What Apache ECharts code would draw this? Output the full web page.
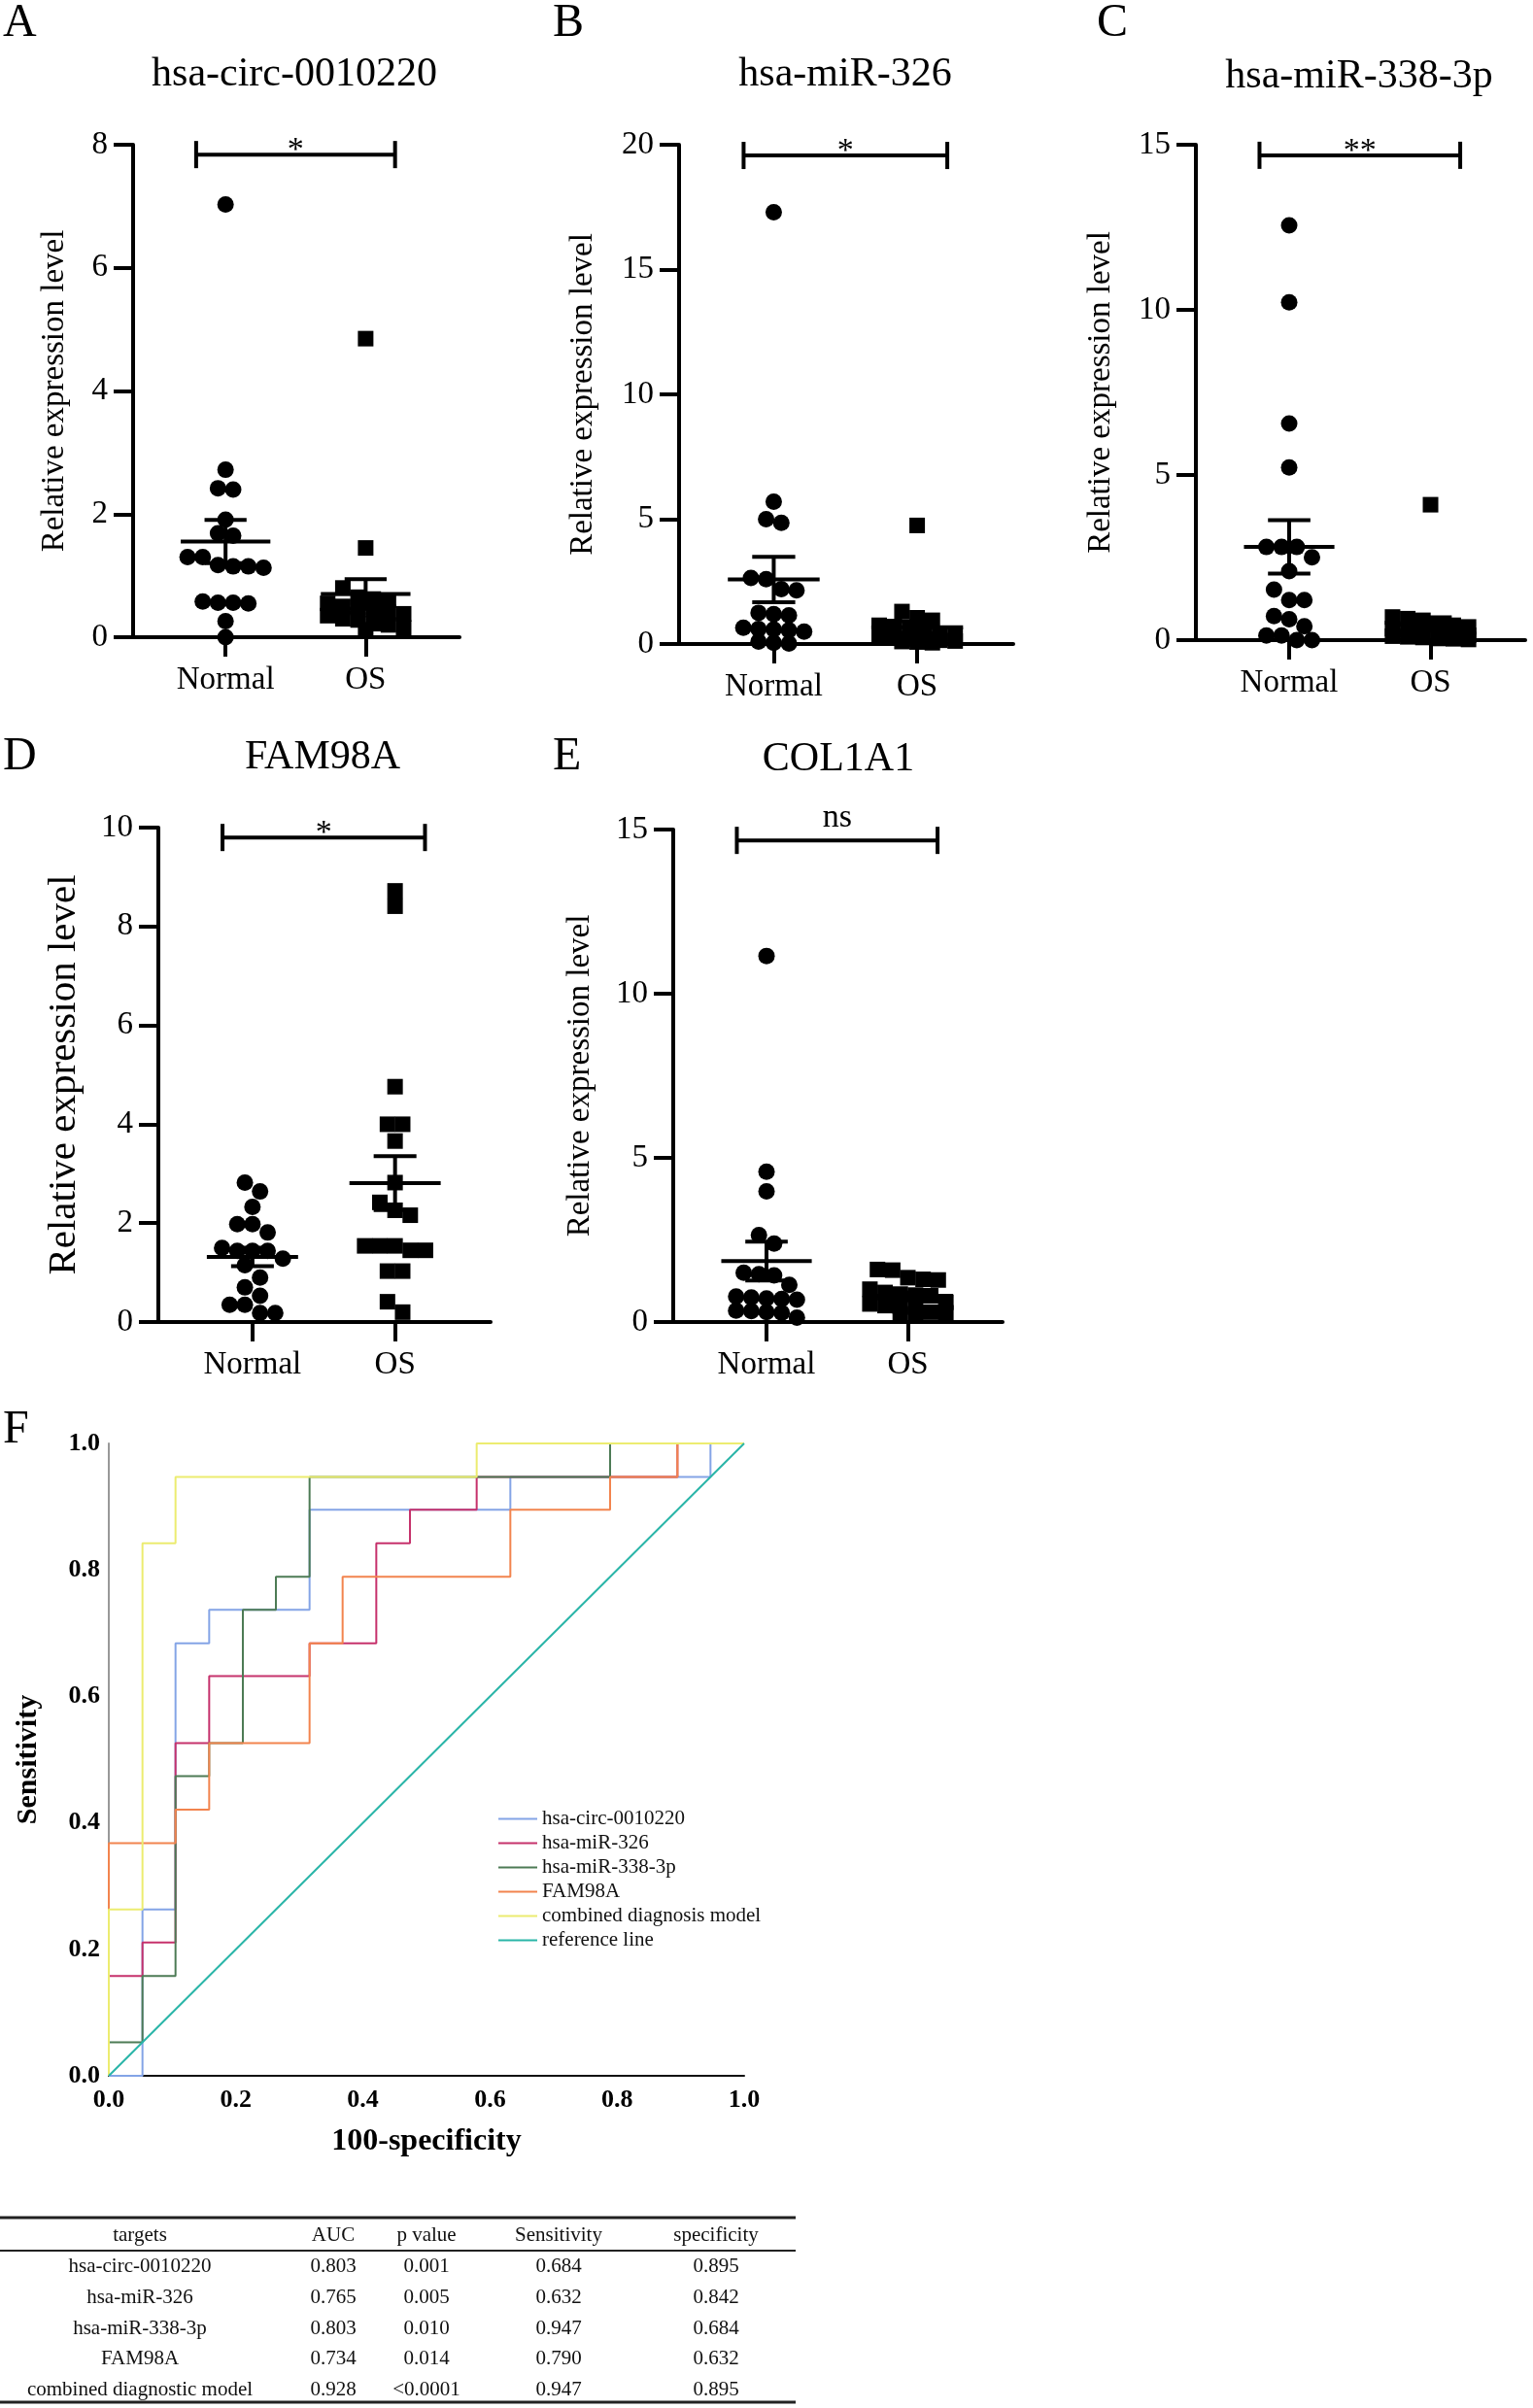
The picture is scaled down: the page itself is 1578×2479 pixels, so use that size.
<!DOCTYPE html>
<html>
<head>
<meta charset="utf-8">
<script src="https://cdn.jsdelivr.net/npm/echarts@6/dist/echarts.min.js"></script>
<style>
html, body { margin: 0; padding: 0; background: #fff; }
#main { width: 1578px; height: 2479px; }
</style>
</head>
<body>
<div id="main"></div>
<script>
const groups = ['Normal', 'OS']

// A  hsa-circ-0010220
const circNormal = [7.03, 2.72, 2.42, 2.4, 1.91, 1.69, 1.65, 1.3, 1.3, 1.17, 1.15, 1.15, 1.13, 0.58, 0.56, 0.56, 0.55, 0.26, 0.0]
const circOS = [4.85, 1.45, 0.8, 0.65, 0.62, 0.6, 0.55, 0.5, 0.48, 0.45, 0.4, 0.38, 0.35, 0.3, 0.28, 0.22, 0.2, 0.15, 0.12]
// B  hsa-miR-326
const mir326Normal = [17.3, 5.7, 5.0, 4.85, 2.65, 2.6, 2.2, 2.15, 1.25, 1.2, 1.15, 0.65, 0.6, 0.58, 0.55, 0.5, 0.1, 0.05, 0.02]
const mir326OS = [4.75, 1.3, 1.05, 0.95, 0.75, 0.7, 0.6, 0.5, 0.4, 0.35, 0.3, 0.25, 0.2, 0.18, 0.15, 0.12, 0.1, 0.08, 0.05]
// C  hsa-miR-338-3p
const mir338Normal = [12.56, 10.23, 6.56, 5.23, 2.82, 2.82, 2.82, 2.51, 2.09, 1.53, 1.21, 1.21, 0.73, 0.63, 0.42, 0.14, 0.14, 0.0, 0.0]
const mir338OS = [4.1, 0.7, 0.65, 0.6, 0.5, 0.45, 0.4, 0.35, 0.3, 0.25, 0.2, 0.18, 0.15, 0.12, 0.1, 0.08, 0.05, 0.04, 0.02]
// D  FAM98A
const famNormal = [2.82, 2.64, 2.33, 1.98, 1.98, 1.81, 1.5, 1.44, 1.44, 1.44, 1.28, 1.15, 0.9, 0.7, 0.53, 0.35, 0.35, 0.18, 0.18]
const famOS = [8.72, 8.41, 4.76, 4.0, 4.0, 3.66, 2.82, 2.42, 2.26, 2.16, 1.54, 1.54, 1.54, 1.45, 1.45, 1.03, 1.03, 0.41, 0.2]
// E  COL1A1
const colNormal = [11.15, 4.58, 3.98, 2.65, 2.39, 1.5, 1.46, 1.42, 1.13, 0.78, 0.75, 0.72, 0.7, 0.68, 0.35, 0.33, 0.3, 0.28, 0.13]
const colOS = [1.6, 1.58, 1.35, 1.3, 1.28, 1.0, 0.9, 0.85, 0.82, 0.8, 0.6, 0.55, 0.5, 0.48, 0.45, 0.3, 0.28, 0.25, 0.22]

// F  ROC curves (1 - specificity, sensitivity)
const rocNames = ['hsa-circ-0010220', 'hsa-miR-326', 'hsa-miR-338-3p', 'FAM98A', 'combined diagnosis model', 'reference line']
const circFpr = [0, 0.053, 0.053, 0.105, 0.105, 0.158, 0.158, 0.316, 0.316, 0.632, 0.632, 0.947, 0.947, 1]
const circTpr = [0, 0, 0.263, 0.263, 0.684, 0.684, 0.737, 0.737, 0.895, 0.895, 0.947, 0.947, 1, 1]
const mir326Fpr = [0, 0, 0.053, 0.053, 0.105, 0.105, 0.158, 0.158, 0.316, 0.316, 0.421, 0.421, 0.474, 0.474, 0.579, 0.579, 0.895, 0.895, 1]
const mir326Tpr = [0, 0.158, 0.158, 0.211, 0.211, 0.526, 0.526, 0.632, 0.632, 0.684, 0.684, 0.842, 0.842, 0.895, 0.895, 0.947, 0.947, 1, 1]
const mir338Fpr = [0, 0, 0.053, 0.053, 0.105, 0.105, 0.158, 0.158, 0.211, 0.211, 0.263, 0.263, 0.316, 0.316, 0.789, 0.789, 1]
const mir338Tpr = [0, 0.053, 0.053, 0.158, 0.158, 0.474, 0.474, 0.526, 0.526, 0.737, 0.737, 0.789, 0.789, 0.947, 0.947, 1, 1]
const famFpr = [0, 0, 0.105, 0.105, 0.158, 0.158, 0.316, 0.316, 0.368, 0.368, 0.632, 0.632, 0.789, 0.789, 0.895, 0.895, 1]
const famTpr = [0, 0.368, 0.368, 0.421, 0.421, 0.526, 0.526, 0.684, 0.684, 0.789, 0.789, 0.895, 0.895, 0.947, 0.947, 1, 1]
const combFpr = [0, 0, 0.053, 0.053, 0.105, 0.105, 0.579, 0.579, 1]
const combTpr = [0, 0.263, 0.263, 0.842, 0.842, 0.947, 0.947, 1, 1]
const refFpr = [0, 1]
const refTpr = [0, 1]
const rocColors = ['#84a4e6', '#c6326c', '#4d7b55', '#f2844e', '#ecec70', '#2ab5a8']

// table
const tableHead = ['targets', 'AUC', 'p value', 'Sensitivity', 'specificity']
const tableTargets = ['hsa-circ-0010220', 'hsa-miR-326', 'hsa-miR-338-3p', 'FAM98A', 'combined diagnostic model']
const tableAuc = ['0.803', '0.765', '0.803', '0.734', '0.928']
const tableP = ['0.001', '0.005', '0.010', '0.014', '<0.0001']
const tableSens = ['0.684', '0.632', '0.947', '0.790', '0.947']
const tableSpec = ['0.895', '0.842', '0.684', '0.632', '0.895']

const serif = 'Liberation Serif'
const X_MIN = -0.66
const X_MAX = 1.67
const DOT = 17

const panels = [
  { letter: 'A', title: 'hsa-circ-0010220', normal: circNormal, os: circOS, max: 8, step: 2, sig: '*', sigY: 7.84,
    grid: { left: 137, top: 149, width: 336, height: 507 }, nameGap: 64, nameSize: 33, letterPos: [3, 24], titlePos: [303, 77] },
  { letter: 'B', title: 'hsa-miR-326', normal: mir326Normal, os: mir326OS, max: 20, step: 5, sig: '*', sigY: 19.57,
    grid: { left: 699, top: 149, width: 344, height: 514 }, nameGap: 82, nameSize: 33, letterPos: [569, 24], titlePos: [870, 77] },
  { letter: 'C', title: 'hsa-miR-338-3p', normal: mir338Normal, os: mir338OS, max: 15, step: 5, sig: '**', sigY: 14.68,
    grid: { left: 1231, top: 149, width: 339, height: 510 }, nameGap: 81, nameSize: 33, letterPos: [1129, 24], titlePos: [1399, 79] },
  { letter: 'D', title: 'FAM98A', normal: famNormal, os: famOS, max: 10, step: 2, sig: '*', sigY: 9.8,
    grid: { left: 163, top: 852, width: 342, height: 509 }, nameGap: 76, nameSize: 41, letterPos: [3, 779], titlePos: [332, 780] },
  { letter: 'E', title: 'COL1A1', normal: colNormal, os: colOS, max: 15, step: 5, sig: 'ns', sigY: 14.67,
    grid: { left: 693, top: 854, width: 339, height: 507 }, nameGap: 79, nameSize: 33, letterPos: [569, 779], titlePos: [863, 782] }
]

const mean = arr => arr.reduce((s, v) => s + v, 0) / arr.length
const sem = arr => {
  const m = mean(arr)
  const v = arr.reduce((s, x) => s + (x - m) * (x - m), 0) / (arr.length - 1)
  return Math.sqrt(v / arr.length)
}

// scatter dot layout: rows of close values spread sideways around the group centre
function swarm(values, center, g, yMax) {
  const pxX = g.width / (X_MAX - X_MIN)
  const pxY = g.height / yMax
  const sorted = values.slice().sort((a, b) => b - a)
  const rows = []
  let row = []
  sorted.forEach(v => {
    if (row.length && ((row[0] - v) * pxY > DOT * 0.8 || row.length >= 6)) {
      rows.push(row)
      row = []
    }
    row.push(v)
  })
  if (row.length) rows.push(row)
  const out = []
  rows.forEach(r => {
    r.forEach((v, i) => {
      out.push([center + (i - (r.length - 1) / 2) * DOT * 0.92 / pxX, v])
    })
  })
  return out
}

const grids = []
const xAxes = []
const yAxes = []
const series = []
const graphics = []

panels.forEach((p, i) => {
  grids.push(p.grid)
  xAxes.push({
    gridIndex: i, type: 'value', min: X_MIN, max: X_MAX,
    splitLine: { show: false },
    axisLine: { onZero: false, lineStyle: { color: '#000', width: 4 } },
    axisTick: { customValues: [0, 1], length: 20, lineStyle: { color: '#000', width: 4 } },
    axisLabel: { customValues: [0, 1], formatter: v => groups[Math.round(v)], margin: 28,
      color: '#000', fontSize: 33, fontFamily: serif }
  })
  yAxes.push({
    gridIndex: i, type: 'value', min: 0, max: p.max, interval: p.step,
    name: 'Relative expression level', nameLocation: 'middle', nameGap: p.nameGap,
    nameTextStyle: { color: '#000', fontSize: p.nameSize, fontFamily: serif },
    splitLine: { show: false },
    axisLine: { show: true, onZero: false, lineStyle: { color: '#000', width: 4 } },
    axisTick: { show: true, length: 20, lineStyle: { color: '#000', width: 4 } },
    axisLabel: { margin: 26, color: '#000', fontSize: 33, fontFamily: serif }
  })
  series.push({
    type: 'scatter', xAxisIndex: i, yAxisIndex: i, symbol: 'circle', symbolSize: DOT,
    itemStyle: { color: '#000', opacity: 1 }, data: swarm(p.normal, 0, p.grid, p.max), z: 3
  })
  series.push({
    type: 'scatter', xAxisIndex: i, yAxisIndex: i, symbol: 'rect', symbolSize: DOT - 1,
    itemStyle: { color: '#000', opacity: 1 }, data: swarm(p.os, 1, p.grid, p.max), z: 3
  })
  // mean with SEM
  series.push({
    type: 'custom', xAxisIndex: i, yAxisIndex: i, z: 5,
    encode: { x: 0, y: 1 },
    data: [[0, mean(p.normal), sem(p.normal)], [1, mean(p.os), sem(p.os)]],
    renderItem: (params, api) => {
      const x = api.value(0)
      const m = api.value(1)
      const s = api.value(2)
      const c = api.coord([x, m])
      const t = api.coord([x, m + s])
      const b = api.coord([x, m - s])
      const hw = api.size([0.32, 0])[0]
      const cw = api.size([0.15, 0])[0]
      const st = { stroke: '#000', lineWidth: 4 }
      return {
        type: 'group',
        children: [
          { type: 'line', shape: { x1: c[0] - hw, y1: c[1], x2: c[0] + hw, y2: c[1] }, style: st },
          { type: 'line', shape: { x1: c[0], y1: t[1], x2: c[0], y2: b[1] }, style: st },
          { type: 'line', shape: { x1: c[0] - cw, y1: t[1], x2: c[0] + cw, y2: t[1] }, style: st },
          { type: 'line', shape: { x1: c[0] - cw, y1: b[1], x2: c[0] + cw, y2: b[1] }, style: st }
        ]
      }
    }
  })
  // significance bracket
  series.push({
    type: 'custom', xAxisIndex: i, yAxisIndex: i, z: 5, clip: false,
    encode: { x: [0, 1], y: 2 },
    data: [[-0.21, 1.21, p.sigY]],
    renderItem: (params, api) => {
      const l = api.coord([api.value(0), api.value(2)])
      const r = api.coord([api.value(1), api.value(2)])
      const st = { stroke: '#000', lineWidth: 4 }
      const ns = p.sig === 'ns'
      return {
        type: 'group',
        children: [
          { type: 'line', shape: { x1: l[0], y1: l[1], x2: r[0], y2: r[1] }, style: st },
          { type: 'line', shape: { x1: l[0], y1: l[1] - 14, x2: l[0], y2: l[1] + 14 }, style: st },
          { type: 'line', shape: { x1: r[0], y1: r[1] - 14, x2: r[0], y2: r[1] + 14 }, style: st },
          { type: 'text', x: (l[0] + r[0]) / 2, y: ns ? l[1] - 6 : l[1] - 4,
            style: { text: p.sig, align: 'center', verticalAlign: ns ? 'bottom' : 'middle',
              font: '34px ' + serif, fill: '#000' } }
        ]
      }
    }
  })
  graphics.push({ type: 'text', x: p.letterPos[0], y: p.letterPos[1],
    style: { text: p.letter, font: '48px ' + serif, fill: '#000', align: 'left', verticalAlign: 'middle' } })
  graphics.push({ type: 'text', x: p.titlePos[0], y: p.titlePos[1],
    style: { text: p.title, font: '42px ' + serif, fill: '#000', align: 'center', verticalAlign: 'middle' } })
})

// panel F
const rocIdx = panels.length
grids.push({ left: 112, top: 1486, width: 654, height: 651 })
xAxes.push({
  gridIndex: rocIdx, type: 'value', min: 0, max: 1, interval: 0.2,
  name: '100-specificity', nameLocation: 'middle', nameGap: 52,
  nameTextStyle: { color: '#000', fontSize: 32, fontWeight: 'bold', fontFamily: serif },
  splitLine: { show: false },
  axisLine: { onZero: false, lineStyle: { color: '#111', width: 2 } },
  axisTick: { show: false },
  axisLabel: { margin: 12, color: '#000', fontSize: 26, fontWeight: 'bold', fontFamily: serif,
    formatter: v => v.toFixed(1) }
})
yAxes.push({
  gridIndex: rocIdx, type: 'value', min: 0, max: 1, interval: 0.2,
  name: 'Sensitivity', nameLocation: 'middle', nameGap: 68,
  nameTextStyle: { color: '#000', fontSize: 30, fontWeight: 'bold', fontFamily: serif },
  splitLine: { show: false },
  axisLine: { show: true, onZero: false, lineStyle: { color: '#999', width: 2 } },
  axisTick: { show: false },
  axisLabel: { margin: 9, color: '#000', fontSize: 26, fontWeight: 'bold', fontFamily: serif,
    formatter: v => v.toFixed(1) }
})
const rocFpr = [circFpr, mir326Fpr, mir338Fpr, famFpr, combFpr, refFpr]
const rocTpr = [circTpr, mir326Tpr, mir338Tpr, famTpr, combTpr, refTpr]
rocNames.forEach((name, k) => {
  series.push({
    name: name, type: 'line', xAxisIndex: rocIdx, yAxisIndex: rocIdx,
    symbol: 'none', clip: false, animation: false,
    lineStyle: { color: rocColors[k], width: 2 }, itemStyle: { color: rocColors[k] },
    data: rocFpr[k].map((x, j) => [x, rocTpr[k][j]])
  })
})
graphics.push({ type: 'text', x: 3, y: 1472,
  style: { text: 'F', font: '48px ' + serif, fill: '#000', align: 'left', verticalAlign: 'middle' } })

// table
const colX = [144, 343, 439, 575, 737]
const rowY = [2333, 2365, 2397, 2428, 2460]
const tFont = '21px ' + serif
graphics.push({ type: 'line', shape: { x1: 0, y1: 2283, x2: 819, y2: 2283 }, style: { stroke: '#222', lineWidth: 3 } })
graphics.push({ type: 'line', shape: { x1: 0, y1: 2317, x2: 819, y2: 2317 }, style: { stroke: '#222', lineWidth: 2 } })
graphics.push({ type: 'line', shape: { x1: 0, y1: 2473, x2: 819, y2: 2473 }, style: { stroke: '#222', lineWidth: 3 } })
tableHead.forEach((h, c) => {
  graphics.push({ type: 'text', x: colX[c], y: 2301,
    style: { text: h, font: tFont, fill: '#111', align: 'center', verticalAlign: 'middle' } })
})
const tableCols = [tableTargets, tableAuc, tableP, tableSens, tableSpec]
tableCols.forEach((col, c) => {
  col.forEach((txt, r) => {
    graphics.push({ type: 'text', x: colX[c], y: rowY[r],
      style: { text: txt, font: tFont, fill: '#111', align: 'center', verticalAlign: 'middle' } })
  })
})

const myChart = echarts.init(document.getElementById('main'))
const option = {
  backgroundColor: '#fff',
  animation: false,
  textStyle: { fontFamily: serif },
  grid: grids,
  xAxis: xAxes,
  yAxis: yAxes,
  legend: {
    data: rocNames, orient: 'vertical', left: 513, top: 1862, padding: 0,
    icon: 'rect', itemWidth: 40, itemHeight: 2, itemGap: 4, selectedMode: false,
    textStyle: { color: '#111', fontSize: 21, lineHeight: 21, fontFamily: serif }
  },
  graphic: graphics,
  series: series
}
myChart.setOption(option)
</script>
</body>
</html>
